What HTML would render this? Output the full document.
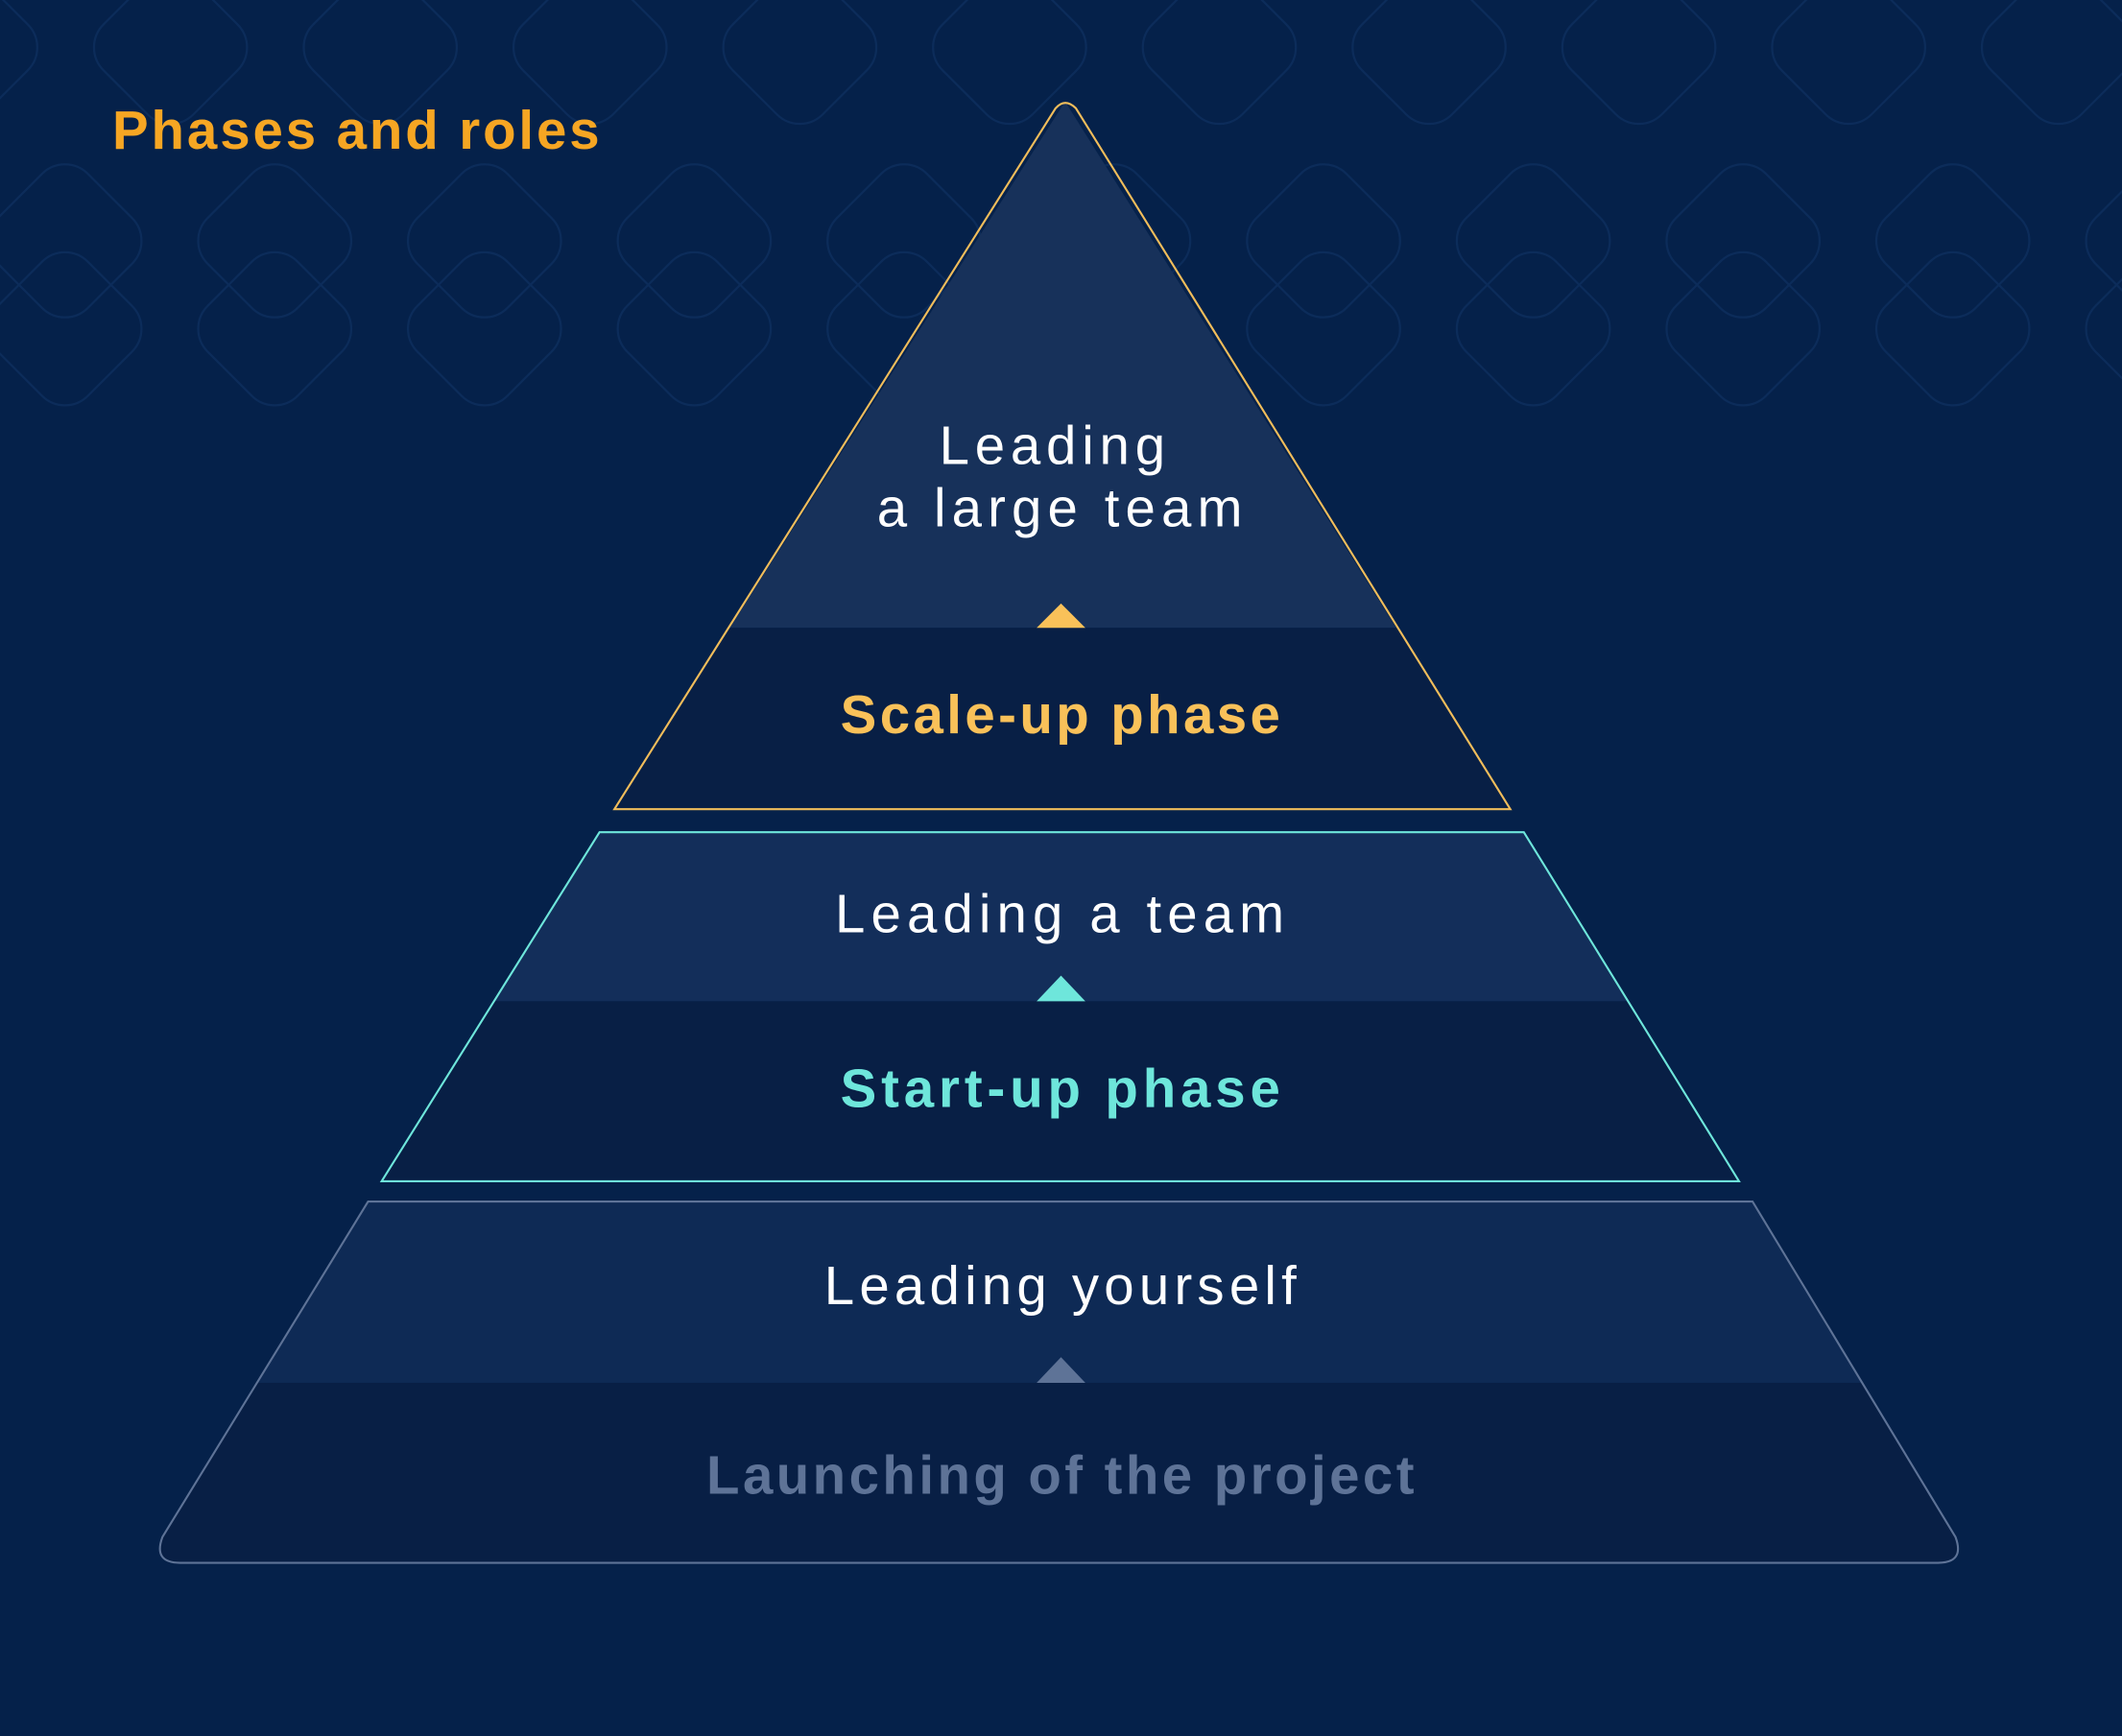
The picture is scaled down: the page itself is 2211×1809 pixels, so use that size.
<!DOCTYPE html>
<html><head><meta charset="utf-8"><style>
html,body{margin:0;padding:0;background:#05214a;}
svg{display:block}
text{font-family:"Liberation Sans",sans-serif;}
</style></head><body>
<svg width="2211" height="1809" viewBox="0 0 1568 1283" preserveAspectRatio="none" xmlns="http://www.w3.org/2000/svg">
<defs>
<g id="d"><rect x="-47" y="-47" width="94" height="94" rx="24" transform="rotate(45)"/></g>
</defs>
<rect width="1568" height="1283" fill="#05214a"/>
<g fill="none" stroke="#0c2c5a" stroke-width="1.6">
  <use href="#d" x="48" y="178"/><use href="#d" x="48" y="243"/>
  <use href="#d" x="203" y="178"/><use href="#d" x="203" y="243"/>
  <use href="#d" x="358" y="178"/><use href="#d" x="358" y="243"/>
  <use href="#d" x="513" y="178"/><use href="#d" x="513" y="243"/>
  <use href="#d" x="668" y="178"/><use href="#d" x="668" y="243"/>
  <use href="#d" x="823" y="178"/><use href="#d" x="823" y="243"/>
  <use href="#d" x="978" y="178"/><use href="#d" x="978" y="243"/>
  <use href="#d" x="1133" y="178"/><use href="#d" x="1133" y="243"/>
  <use href="#d" x="1288" y="178"/><use href="#d" x="1288" y="243"/>
  <use href="#d" x="1443" y="178"/><use href="#d" x="1443" y="243"/>
  <use href="#d" x="1598" y="178"/><use href="#d" x="1598" y="243"/>
  <use href="#d" x="-29" y="35"/><use href="#d" x="126" y="35"/><use href="#d" x="281" y="35"/>
  <use href="#d" x="436" y="35"/><use href="#d" x="591" y="35"/><use href="#d" x="746" y="35"/>
  <use href="#d" x="901" y="35"/><use href="#d" x="1056" y="35"/><use href="#d" x="1211" y="35"/>
  <use href="#d" x="1366" y="35"/><use href="#d" x="1521" y="35"/>
</g>
<text x="83" y="110" font-size="40" font-weight="bold" fill="#f6a623" textLength="360" lengthAdjust="spacing">Phases and roles</text>

<clipPath id="c1"><path d="M787 75 L454 598 L1116 598 Z"/></clipPath>
<g clip-path="url(#c1)">
  <rect x="400" y="60" width="800" height="404" fill="#17315a"/>
  <rect x="400" y="464" width="800" height="140" fill="#081f45"/>
</g>
<path d="M780 80 Q787 72 795 80 L1116 598 L454 598 Z" fill="none" stroke="#f1bd5b" stroke-width="1.5"/>
<path d="M766 464 L784 446 L802 464 Z" fill="#f9c159"/>
<text x="694" y="343" font-size="40" fill="#fff" textLength="167" lengthAdjust="spacing">Leading</text>
<text x="648" y="389" font-size="40" fill="#fff" textLength="270" lengthAdjust="spacing">a large team</text>
<text x="621" y="542" font-size="40" font-weight="bold" fill="#f9c159" textLength="325" lengthAdjust="spacing">Scale-up phase</text>

<clipPath id="c2"><path d="M443 615 L1126 615 L1285 873 L282 873 Z"/></clipPath>
<g clip-path="url(#c2)">
  <rect x="270" y="610" width="1030" height="130" fill="#132e5a"/>
  <rect x="270" y="740" width="1030" height="140" fill="#081f45"/>
</g>
<path d="M443 615 L1126 615 L1285 873 L282 873 Z" fill="none" stroke="#6ee6db" stroke-width="1.5"/>
<path d="M766 740 L784 721 L802 740 Z" fill="#6ee6db"/>
<text x="617" y="689" font-size="40" fill="#fff" textLength="332" lengthAdjust="spacing">Leading a team</text>
<text x="621" y="818" font-size="40" font-weight="bold" fill="#6ee6db" textLength="325" lengthAdjust="spacing">Start-up phase</text>

<clipPath id="c3"><path d="M272 888 L1295 888 L1445 1136 Q1452 1155 1432 1155 L133 1155 Q113 1155 120 1136 Z"/></clipPath>
<g clip-path="url(#c3)">
  <rect x="100" y="880" width="1370" height="142" fill="#0e2a55"/>
  <rect x="100" y="1022" width="1370" height="140" fill="#081f45"/>
</g>
<path d="M272 888 L1295 888 L1445 1136 Q1452 1155 1432 1155 L133 1155 Q113 1155 120 1136 Z" fill="none" stroke="#5e7397" stroke-width="1.5"/>
<path d="M766 1022 L784 1003 L802 1022 Z" fill="#5e7397"/>
<text x="609" y="964" font-size="40" fill="#fff" textLength="349" lengthAdjust="spacing">Leading yourself</text>
<text x="522" y="1104" font-size="40" font-weight="bold" fill="#5e7397" textLength="523" lengthAdjust="spacing">Launching of the project</text>
</svg>
</body></html>
